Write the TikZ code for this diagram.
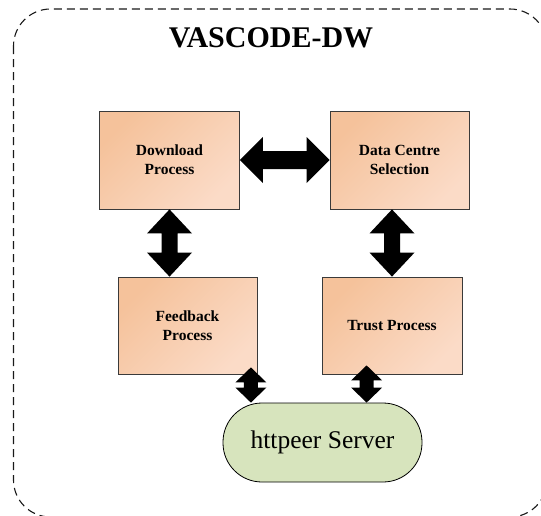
\documentclass[tikz,border=0pt]{standalone}
\usepackage{fontspec}
\setmainfont{Liberation Serif}
\usetikzlibrary{calc}

\definecolor{boxA}{HTML}{F5C29B}
\definecolor{boxB}{HTML}{FBDBC7}
\definecolor{srvfill}{HTML}{D7E4BD}
\definecolor{edge}{HTML}{3A3A3A}

\tikzset{
  procbox/.style={rectangle, draw=edge, line width=0.8pt,
    top color=boxA, bottom color=boxB, shading angle=45,
    minimum width=#1, minimum height=98pt, inner sep=0pt,
    align=center, font=\fontsize{15.5}{19}\selectfont\bfseries},
  procbox/.default=140pt,
  srvbox/.style={rectangle, rounded corners=39pt, draw=black, line width=0.8pt,
    fill=srvfill, minimum width=199pt, minimum height=79pt, inner sep=0pt,
    font=\fontsize{25.5}{30}\selectfont},
  frame/.style={draw=black!90, line width=1.1pt, dash pattern=on 8pt off 5pt,
    rounded corners=37pt}
}

% vertical double block arrow: top tip, bottom tip, head half-width,
% shaft half-width, head length
\newcommand\dblarrowV[5]{%
  \fill let \p1=(#1), \p2=(#2) in
    (\x1,\y1) -- (\x1+#3,\y1-#5) -- (\x1+#4,\y1-#5) -- (\x1+#4,\y2+#5)
    -- (\x1+#3,\y2+#5) -- (\x1,\y2) -- (\x1-#3,\y2+#5) -- (\x1-#4,\y2+#5)
    -- (\x1-#4,\y1-#5) -- (\x1-#3,\y1-#5) -- cycle;}
% horizontal double block arrow: left tip, right tip, head half-height,
% shaft half-height, head length
\newcommand\dblarrowH[5]{%
  \fill let \p1=(#1), \p2=(#2) in
    (\x1,\y1) -- (\x1+#5,\y1+#3) -- (\x1+#5,\y1+#4) -- (\x2-#5,\y1+#4)
    -- (\x2-#5,\y1+#3) -- (\x2,\y1) -- (\x2-#5,\y1-#3) -- (\x2-#5,\y1-#4)
    -- (\x1+#5,\y1-#4) -- (\x1+#5,\y1-#3) -- cycle;}

\begin{document}
\begin{tikzpicture}[x=1pt, y=-1pt]
  \useasboundingbox (0,0) rectangle (541,515);
  \clip (0,0) rectangle (541,515);

  % dashed outer frame
  \draw[frame] (13.5,9) rectangle (547,517);
  \node[font=\fontsize{30}{34}\selectfont\bfseries] (title) at (271,38) {VASCODE-DW};

  % process boxes
  \node[procbox] (dl) at (169.5,160) {Download\\Process};
  \node[procbox=139pt] (dc) at (399.5,160) {Data Centre\\Selection};
  \node[procbox=139pt, minimum height=97pt] (fb) at (187.5,325.5) {Feedback\\Process};
  \node[procbox, minimum height=97pt] (tp) at (392,325.5) {Trust Process};

  % server
  \node[srvbox] (srv) at (322.5,442.5) {httpeer Server};

  % connectors
  \dblarrowH{dl.east}{dc.west}{23pt}{9pt}{23pt}
  \dblarrowV{dl.south}{fb.north -| dl.south}{22.5pt}{8pt}{24pt}
  \coordinate (dcb) at (dc.south -| tp.north);
  \dblarrowV{dcb}{tp.north}{22.5pt}{8pt}{24pt}

  \coordinate (fbt) at ($(fb.south east)+(-6.5,-7)$);
  \coordinate (fbb) at (fbt |- srv.north);
  \dblarrowV{fbt}{fbb}{15.5pt}{7pt}{15pt}
  \coordinate (tpt) at ($(tp.south west)+(45,-9)$);
  \coordinate (tpb) at (tpt |- srv.north);
  \dblarrowV{tpt}{tpb}{15.5pt}{7pt}{15pt}
\end{tikzpicture}
\end{document}
